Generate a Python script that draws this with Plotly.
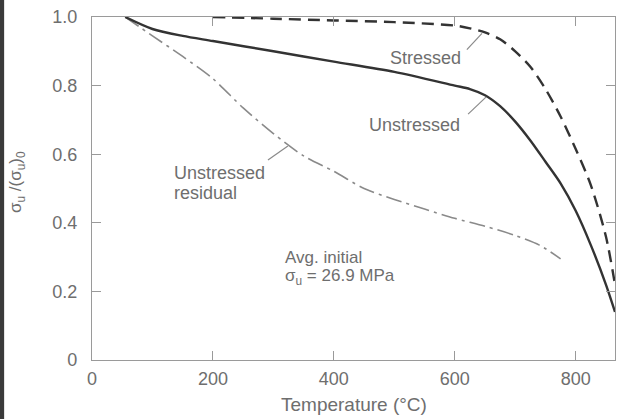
import plotly.graph_objects as go

# Data
temp_unstressed = [55, 100, 150, 200, 300, 400, 500, 600, 625, 650, 675, 700, 725, 750, 775, 800, 825, 850, 865]
val_unstressed = [1.0, 0.965, 0.945, 0.93, 0.90, 0.87, 0.84, 0.80, 0.79, 0.772, 0.74, 0.695, 0.64, 0.578, 0.515, 0.435, 0.335, 0.22, 0.14]

temp_stressed = [200, 300, 400, 500, 600, 625, 650, 675, 700, 725, 750, 775, 800, 825, 850, 865]
val_stressed = [1.0, 0.995, 0.99, 0.985, 0.975, 0.967, 0.955, 0.935, 0.90, 0.855, 0.79, 0.71, 0.615, 0.51, 0.36, 0.22]

temp_residual = [55, 100, 150, 200, 250, 300, 350, 400, 450, 500, 550, 600, 650, 700, 740, 775]
val_residual = [1.0, 0.945, 0.885, 0.82, 0.735, 0.66, 0.595, 0.55, 0.50, 0.468, 0.44, 0.413, 0.39, 0.363, 0.335, 0.295]

x_ticks = [0, 200, 400, 600, 800]
y_ticks = [0, 0.2, 0.4, 0.6, 0.8, 1.0]
y_ticklabels = ["0", "0.2", "0.4", "0.6", "0.8", "1.0"]

TXT = "#6e6e6e"
FONT = "Liberation Sans, Arial, sans-serif"

fig = go.Figure()
fig.add_trace(go.Scatter(x=temp_residual, y=val_residual, mode="lines",
                         line=dict(color="#8a8a8a", width=1.6, dash="16px,5px,3px,5px",
                                   shape="spline", smoothing=0.8),
                         showlegend=False))
fig.add_trace(go.Scatter(x=temp_unstressed, y=val_unstressed, mode="lines",
                         line=dict(color="#333333", width=2.4, shape="spline", smoothing=0.8),
                         showlegend=False))
fig.add_trace(go.Scatter(x=temp_stressed, y=val_stressed, mode="lines",
                         line=dict(color="#333333", width=2.4, dash="12px,7px",
                                   shape="spline", smoothing=0.8),
                         showlegend=False))

ann_font = dict(family=FONT, size=18, color=TXT)
small_font = dict(family=FONT, size=17, color=TXT)
fig.add_annotation(x=552, y=0.88, text="Stressed", showarrow=False, font=ann_font)
fig.add_annotation(x=534, y=0.685, text="Unstressed", showarrow=False, font=ann_font)
fig.add_annotation(x=132, y=0.546, text="Unstressed", showarrow=False,
                   xanchor="left", font=ann_font)
fig.add_annotation(x=132, y=0.488, text="residual", showarrow=False,
                   xanchor="left", font=ann_font)
fig.add_annotation(x=316, y=0.30, text="Avg. initial", showarrow=False,
                   xanchor="left", font=small_font)
fig.add_annotation(x=316, y=0.242, text="σ<sub>u</sub> = 26.9 MPa", showarrow=False,
                   xanchor="left", font=small_font)

leader = dict(color="#8a8a8a", width=1.2)
fig.add_shape(type="line", x0=620, y0=0.905, x1=645, y1=0.952, line=leader)
fig.add_shape(type="line", x0=622, y0=0.717, x1=652, y1=0.767, line=leader)
fig.add_shape(type="line", x0=291, y0=0.583, x1=324, y1=0.624, line=leader)

# axis titles placed as annotations
fig.add_annotation(xref="paper", yref="paper", x=0.5, y=-0.131, xanchor="center", yanchor="middle",
                   text="Temperature (°C)",
                   showarrow=False, font=dict(family=FONT, size=19, color=TXT))
fig.add_annotation(xref="paper", yref="paper", x=-0.1434, y=0.519, xanchor="center", yanchor="middle",
                   textangle=-90,
                   text="σ<sub>u</sub> /(σ<sub>u</sub>)<sub>0</sub>",
                   showarrow=False, font=dict(family=FONT, size=17, color=TXT))

# scan edge strip on the left
fig.add_shape(type="rect", xref="paper", yref="paper", x0=-0.176, x1=-0.168, y0=-0.2, y1=1.1,
              fillcolor="#3a3a3a", line=dict(width=0), layer="above")

axis_common = dict(showline=True, linecolor="#9a9a9a", linewidth=1.2, mirror="ticks",
                   ticks="inside", ticklen=9, tickcolor="#9a9a9a", tickwidth=1.2,
                   showgrid=False, zeroline=False,
                   tickfont=dict(family=FONT, size=18, color=TXT))

fig.update_xaxes(range=[0, 865], tickvals=x_ticks, ticklabelstandoff=2, **axis_common)
fig.update_yaxes(range=[0, 1.0], tickvals=y_ticks, ticktext=y_ticklabels, ticklabelstandoff=10,
                 **axis_common)

fig.update_layout(width=619, height=419, margin=dict(l=92, r=4, t=17, b=59),
                  plot_bgcolor="white", paper_bgcolor="white")

fig.write_html("out.html")
